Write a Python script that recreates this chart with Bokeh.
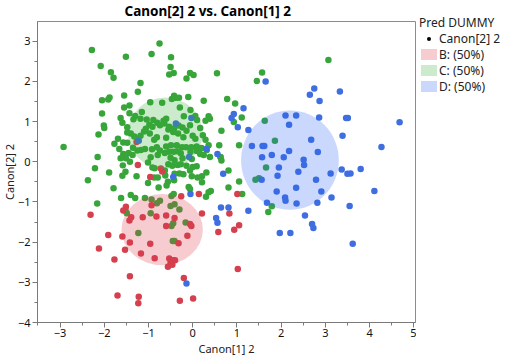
from bokeh.plotting import figure
from bokeh.models import Range1d, FixedTicker, Div
from bokeh.layouts import row
from bokeh.embed import file_html
from bokeh.resources import INLINE

# ---- data ----
green_x = [-2.28,-0.75,-1.51,-0.93,-2.08,-0.49,-0.50,-1.85,-1.79,-0.53,-0.43,-0.06,0.02,-0.14,0.55,-1.18,1.45,1.57,3.07,
           -1.24,-1.55,-1.88,-1.91,-2.05,-2.05,-0.96,-0.69,-0.42,-0.38,-0.47,-0.31,-0.10,0.25,0.78,0.96,-1.55,-1.43,-1.34,
           -1.15,-1.43,-1.63,-0.29,-0.05,-1.30,-1.59,-1.48,-1.48,-1.18,-1.04,-0.89,-0.98,-0.80,-0.66,-0.60,-0.64,-0.74,
           -0.53,-0.42,-0.32,-0.23,-0.20,-0.06,0.10,0.17,0.29,0.36,0.39,0.06,-2.01,-2.00,-1.40,-1.32,-1.24,-1.18,-1.10,
           -1.06,-0.91,-0.97,-0.81,-0.60,-0.55,-0.44,-0.33,-0.21,-0.14,0.00,0.06,0.23,0.29,-1.69,-1.57,-1.77,-1.48,-2.13,
           -0.87,-0.60,-0.49,-0.36,-0.24,-0.15,-0.03,0.09,0.20,0.36,-2.92,-1.35,-1.25,-1.17,-1.08,-0.92,-0.81,-0.74,-0.79,
           -0.63,-0.53,-0.43,-0.35,-0.27,-0.05,0.09,0.17,0.25,0.32,0.39,0.63,0.65,-1.66,-1.57,-1.63,-1.45,-1.51,-1.42,-1.36,
           -0.95,-0.50,-0.41,-0.23,-0.02,-2.15,-2.21,-1.89,-1.58,-1.52,-1.59,-1.27,-1.01,-0.91,-0.86,-0.63,-0.55,-0.46,
           -0.34,-0.27,-0.14,0.00,0.09,-0.06,-0.30,-0.21,-0.41,-0.62,-0.79,-1.01,-0.87,-0.02,0.11,0.21,0.31,0.81,-2.37,
           -1.79,-0.56,-0.42,-0.59,-0.77,-0.09,-0.06,0.21,0.36,0.41,0.30,0.81,1.05,1.12,-0.48,-0.43,-1.40,-1.30,-1.62,-1.08,
           -0.93,-2.16,-1.52,-1.49,-0.95,-0.30,-0.81,-0.74,-0.50,-0.41,-0.48,-0.44,-0.16,-0.45,-0.41,-1.23,1.66,1.42,1.50,
           1.71,1.79,1.63,1.86,0.93,1.11,1.05,0.65,0.60,0.63]
green_y = [2.78,2.94,2.61,2.68,2.38,2.60,2.36,2.23,2.09,2.17,2.21,2.21,2.16,2.07,2.20,1.96,2.01,2.22,2.53,
           1.74,1.65,1.60,1.55,1.53,1.20,1.48,1.47,1.64,1.59,1.56,1.59,1.61,1.52,1.56,1.45,1.35,1.40,1.06,
           1.24,1.21,1.09,1.35,1.29,1.14,0.97,0.86,0.73,1.07,1.05,1.04,0.92,0.97,1.02,1.07,0.95,0.91,
           0.87,0.83,0.90,0.85,1.13,0.91,1.04,0.84,1.02,1.13,1.07,1.14,0.90,0.84,0.70,0.63,0.58,0.65,0.75,
           0.82,0.87,0.70,0.61,0.60,0.80,0.74,0.70,0.61,0.77,0.65,0.57,0.66,0.55,0.57,0.48,0.45,0.47,0.68,
           0.55,0.38,0.41,0.41,0.36,0.36,0.36,0.38,0.34,0.41,0.37,0.35,0.28,0.29,0.32,0.31,0.36,0.28,0.17,
           0.22,0.25,0.25,0.26,0.21,0.24,0.27,0.19,0.17,0.29,0.12,0.12,0.03,0.32,0.19,0.09,0.22,0.09,0.00,0.17,
           0.11,0.10,0.04,0.09,0.07,0.12,-0.16,-0.27,-0.09,-0.25,-0.35,-0.36,-0.02,-0.14,-0.16,-0.22,-0.06,-0.10,
           -0.08,-0.06,-0.10,-0.13,-0.11,-0.22,-0.29,-0.31,-0.30,-0.34,-0.39,-0.53,-0.39,-0.36,-0.39,-0.36,-0.27,-0.22,-0.46,
           -0.66,-0.50,-0.46,-0.59,-0.64,-0.63,-0.68,-0.51,-0.76,-0.73,-0.87,-0.64,-0.49,-0.80,-0.85,-0.80,-0.83,-0.90,-0.90,-0.90,
           -0.94,-1.04,-1.21,-1.28,-1.28,-1.19,-1.03,-0.97,-1.10,-1.06,-1.60,-1.53,-1.51,-1.97,-1.97,-1.77,-0.14,-0.45,-0.41,
           -1.25,-1.11,1.02,0.52,0.99,1.10,0.41,0.77,0.41,0.11]

red_x = [-2.31,-1.91,-2.12,-1.77,-1.70,-1.42,-1.22,-1.23,-1.51,-1.57,-1.43,-1.39,-1.59,-1.53,-1.42,-1.17,-1.13,-0.96,
         -0.86,-0.82,-0.93,-0.96,-1.24,-1.27,-0.72,-0.69,-0.60,-0.60,-0.53,-0.44,-0.40,-0.50,-0.56,-0.46,-0.32,-0.12,
         -0.06,-0.03,-0.26,-0.20,-0.29,0.01,0.14,0.21,0.58,0.83,0.94,1.05,1.01,1.02,-0.41]
red_y = [-1.32,-1.82,-2.16,-2.43,-3.33,-2.85,-3.36,-3.52,-1.12,-1.21,-1.46,-1.38,-1.86,-2.19,-2.01,-2.28,-1.38,-2.04,
         -2.40,-1.36,-1.08,-0.38,-0.08,0.49,-0.17,-0.24,-1.34,-1.60,-2.41,-2.45,-2.45,-2.52,-2.61,-2.56,-2.03,-1.84,
         -1.55,-1.60,-0.86,-2.89,-3.46,-3.40,-0.80,-1.29,-1.75,-1.29,-1.69,-1.58,-0.80,-2.67,-1.40]

blue_x = [1.65,2.75,2.65,2.87,3.33,2.10,2.34,2.18,2.86,3.47,3.51,4.68,3.39,2.68,4.27,1.34,1.58,1.62,1.26,1.02,0.93,
          0.88,1.15,1.79,2.06,2.18,1.57,2.51,2.52,2.83,1.95,2.39,3.12,3.37,3.50,3.57,3.80,1.92,1.56,2.79,2.34,1.90,
          2.91,2.09,2.10,3.14,1.68,2.35,2.82,3.55,4.11,2.54,2.70,2.73,1.97,2.21,3.62,1.26,0.81,0.64,0.53,0.56,0.69,
          0.56,-0.03,-0.38,-0.08,0.31,-0.44,-0.05,-0.14,-1.22]
blue_y = [2.00,1.82,1.67,1.51,1.75,1.15,1.15,0.92,1.10,1.09,1.09,0.98,0.65,0.55,0.37,0.39,0.39,0.39,0.79,0.86,1.19,
          1.09,1.33,0.17,0.11,0.27,0.11,0.05,-0.08,0.24,-0.14,-0.25,-0.29,-0.19,-0.30,-0.29,-0.18,-0.35,-0.45,-0.45,-0.65,-0.74,
          -0.74,-0.89,-0.97,-0.89,-1.02,-1.04,-1.02,-1.10,-0.73,-1.34,-1.55,-1.65,-1.77,-1.77,-2.04,-1.22,-1.14,-1.14,-1.40,-1.52,-0.30,
          0.19,1.09,0.95,0.12,0.32,-0.38,-0.80,-3.03,0.52]

# density ellipses (center x, center y, width, height) per predicted group
groups = ["B: (50%)", "C: (50%)", "D: (50%)"]
ell_x = [-0.69, -0.62, 2.20]
ell_y = [-1.69, 0.71, 0.04]
ell_w = [1.84, 1.69, 2.21]
ell_h = [1.77, 1.78, 2.47]

x_ticks = [-3, -2, -1, 0, 1, 2, 3, 4, 5]
y_ticks = [-4, -3, -2, -1, 0, 1, 2, 3]

RED = "#D5404F"
GREEN = "#38A53B"
BLUE = "#3F6EE0"
ELL_RGB = [(220, 50, 70), (50, 170, 50), (40, 100, 245)]
ELL_ALPHA = 0.25
ELL_COLORS = ["#%02X%02X%02X" % c for c in ELL_RGB]
FONT = "Noto Sans"
SHIFT_X = 4   # the y-axis panel measures a little wider than it draws
SHIFT_Y = 4   # the title panel measures a little taller than it draws

p = figure(width=416 + SHIFT_X, height=360 + SHIFT_Y, output_backend="svg", toolbar_location=None,
           x_range=Range1d(-3.51, 5.04), y_range=Range1d(-4.0, 3.49),
           min_border_left=37 + SHIFT_X, min_border_right=1, min_border_top=21 + SHIFT_Y,
           min_border_bottom=38)
p.background_fill_color = "white"
p.border_fill_color = "white"
p.outline_line_color = "#8C8C8C"
p.xgrid.visible = False
p.ygrid.visible = False

p.title.text = "Canon[2] 2 vs. Canon[1] 2"
p.title.text_font = FONT
p.title.text_font_size = "13.5px"
p.title.text_font_style = "bold"
p.title.text_color = "#000000"
p.title.align = "left"
p.title.offset = 87
p.title.standoff = 4

for ax, ticks, is_x in ((p.xaxis[0], x_ticks, True), (p.yaxis[0], y_ticks, False)):
    minors = [t + 0.5 for t in ticks[:-1]]
    if is_x:
        minors = [ticks[0] - 0.5] + minors
    ax.ticker = FixedTicker(ticks=ticks, minor_ticks=minors)
    ax.axis_line_color = "#7A7A7A"
    ax.major_tick_line_color = "#7A7A7A"
    ax.minor_tick_line_color = "#7A7A7A"
    ax.major_tick_out = 5
    ax.major_tick_in = 0
    ax.minor_tick_out = 3
    ax.minor_tick_in = 0
    ax.major_label_text_font = FONT
    ax.major_label_text_font_size = "11px"
    ax.major_label_text_color = "#111111"
    ax.major_label_standoff = 1 if is_x else 2
    ax.axis_label_text_font = FONT
    ax.axis_label_text_font_size = "11px"
    ax.axis_label_text_font_style = "normal"
    ax.axis_label_text_color = "#222222"
    ax.axis_label_standoff = 1 if is_x else -2

p.xaxis.axis_label = "Canon[1] 2"
p.yaxis.axis_label = "Canon[2] 2"

p.scatter(green_x, green_y, size=6.5, color=GREEN, line_color=None)
p.scatter(red_x, red_y, size=6.5, color=RED, line_color=None)
p.scatter(blue_x, blue_y, size=6.5, color=BLUE, line_color=None)

p.ellipse(x=ell_x, y=ell_y, width=ell_w, height=ell_h, fill_color=ELL_COLORS,
          fill_alpha=ELL_ALPHA, line_color=None)

# ---- legend (HTML text beside the plot) ----
rows_html = []
row_top = 26 + SHIFT_Y
rows_html.append(
    '<div style="position:absolute;left:2px;top:%dpx;height:16px;line-height:16px;white-space:nowrap;">'
    '<span style="display:inline-block;width:16px;height:16px;vertical-align:top;position:relative;">'
    '<span style="position:absolute;left:6px;top:6px;width:4px;height:4px;border-radius:2px;background:#000;"></span>'
    '</span><span style="margin-left:2px;">Canon[2] 2</span></div>' % row_top)
for i, (g, c) in enumerate(zip(groups, ELL_RGB)):
    top = row_top + 16 * (i + 1)
    rows_html.append(
        '<div style="position:absolute;left:2px;top:%dpx;height:16px;line-height:16px;white-space:nowrap;">'
        '<span style="display:inline-block;width:16px;height:11px;margin-top:2px;vertical-align:top;'
        'background:rgba(%d,%d,%d,%.2f);"></span><span style="margin-left:2px;">%s</span></div>'
        % (top, c[0], c[1], c[2], ELL_ALPHA, g))

legend_html = (
    '<div style="position:relative;left:-2px;width:104px;height:115px;font-family:\'Noto Sans\';'
    'font-size:12px;color:#222222;">'
    '<div style="position:absolute;left:0px;top:%dpx;line-height:16px;white-space:nowrap;">Pred DUMMY</div>'
    % (10 + SHIFT_Y)
    + "".join(rows_html) + '</div>')

legend_div = Div(text=legend_html, width=104, height=125)

layout = row(p, legend_div, spacing=0)
layout.margin = (-SHIFT_Y, 0, 0, -SHIFT_X)

open("out.html", "w").write(file_html(layout, INLINE))
